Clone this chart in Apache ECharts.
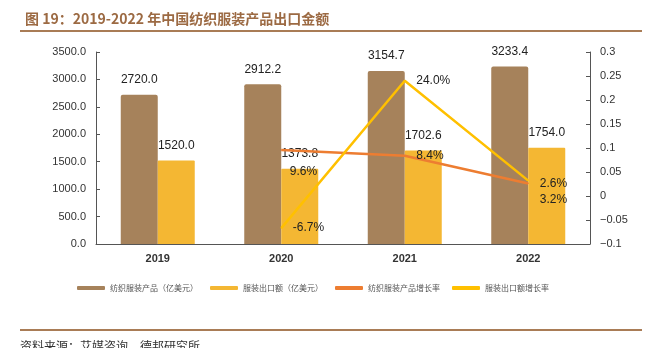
<!DOCTYPE html>
<html>
<head>
<meta charset="utf-8">
<script src="https://cdn.jsdelivr.net/npm/echarts@6/dist/echarts.min.js"></script>
<style>html,body{margin:0;padding:0;background:#fff}#c{width:656px;height:348px}</style>
</head>
<body>
<div id="c"></div>
<script>
const categories = ['2019', '2020', '2021', '2022'];
const textileValues = [2720.0, 2912.2, 3154.7, 3233.4];
const garmentValues = [1520.0, 1373.8, 1702.6, 1754.0];
const textileGrowth = [null, 0.096, 0.084, 0.026];
const garmentGrowth = [null, -0.067, 0.240, 0.032];
const seriesNames = ['纺织服装产品（亿美元）', '服装出口额（亿美元）', '纺织服装产品增长率', '服装出口额增长率'];
const titleText = '图 19：2019-2022 年中国纺织服装产品出口金额';
const sourceText = '资料来源：艾媒咨询，德邦研究所';

const FONT = '"Liberation Sans", "Noto Sans CJK SC", sans-serif';
const CJK = '"Noto Sans CJK SC", sans-serif';
const chart = echarts.init(document.getElementById('c'));

const textileLabelOffsets = [[0,0],[3,22],[6,0],[6,0]];
const garmentLabelOffsets = [[0,0],[6,0],[6,0],[6,19]];
const pct = v => (v * 100).toFixed(1) + '%';

chart.setOption({
  animation: false,
  title: {
    text: titleText, left: 20, top: 7,
    textStyle: { color: '#9c6a43', fontSize: 14, fontWeight: 'bold', fontFamily: CJK }
  },
  graphic: [
    { type: 'line', shape: { x1: 20, y1: 31, x2: 642, y2: 31 }, style: { stroke: '#a97c56', lineWidth: 2 } },
    { type: 'line', shape: { x1: 20, y1: 330, x2: 642, y2: 330 }, style: { stroke: '#a97c56', lineWidth: 2 } },
    { type: 'text', left: 20, top: 340, style: { text: sourceText, fill: '#333', font: '12px "Noto Sans CJK SC", sans-serif' } }
  ],
  legend: {
    left: 72, top: 279, itemWidth: 28, itemHeight: 4, itemGap: 12,
    textStyle: { fontSize: 8, color: '#555', fontFamily: CJK },
    data: seriesNames.map(n => ({ name: n, icon: 'roundRect' }))
  },
  grid: { left: 96, right: 66, top: 52, bottom: 104 },
  xAxis: {
    type: 'category', data: categories,
    axisLine: { lineStyle: { color: '#555' } },
    axisTick: { inside: true, length: 4, lineStyle: { color: '#555' } },
    axisLabel: { color: '#333', fontSize: 11, fontWeight: 'bold', fontFamily: FONT, margin: 9 }
  },
  yAxis: [
    {
      type: 'value', min: 0, max: 3500, interval: 500,
      axisLine: { show: true, lineStyle: { color: '#555' } },
      axisTick: { show: true, inside: true, length: 4, lineStyle: { color: '#555' } },
      splitLine: { show: false },
      axisLabel: { color: '#333', fontSize: 11, fontFamily: FONT, margin: 10, formatter: v => v.toFixed(1) }
    },
    {
      type: 'value', min: -0.1, max: 0.3, interval: 0.05,
      axisLine: { show: true, lineStyle: { color: '#555' } },
      axisTick: { show: true, inside: true, length: 4, lineStyle: { color: '#555' } },
      splitLine: { show: false },
      axisLabel: { color: '#333', fontSize: 11, fontFamily: FONT, margin: 10,
        formatter: v => { const r = Math.round(v * 100) / 100; return r < 0 ? '\u2212' + Math.abs(r) : String(r); } }
    }
  ],
  series: [
    {
      name: seriesNames[0], type: 'bar', data: textileValues, barWidth: 37, barGap: '0%',
      itemStyle: { color: '#a6825b', borderRadius: [2, 2, 0, 0] },
      label: { show: true, position: 'top', distance: 9, color: '#222', fontSize: 12, fontFamily: FONT, formatter: p => p.value.toFixed(1) }
    },
    {
      name: seriesNames[1], type: 'bar', data: garmentValues, barWidth: 37,
      itemStyle: { color: '#f4b733', borderRadius: [1, 1, 0, 0] },
      label: { show: true, position: 'top', distance: 9, color: '#222', fontSize: 12, fontFamily: FONT, formatter: p => p.value.toFixed(1) }
    },
    {
      name: seriesNames[2], type: 'line', yAxisIndex: 1, symbol: 'circle', symbolSize: 1,
      data: textileGrowth.map((v, i) => ({ value: v, label: { offset: textileLabelOffsets[i] } })),
      lineStyle: { color: '#ed7d31', width: 2.5 }, itemStyle: { color: '#ed7d31' },
      label: { show: true, position: 'right', color: '#222', fontSize: 12, fontFamily: FONT, formatter: p => pct(p.value) }
    },
    {
      name: seriesNames[3], type: 'line', yAxisIndex: 1, symbol: 'circle', symbolSize: 1,
      data: garmentGrowth.map((v, i) => ({ value: v, label: { offset: garmentLabelOffsets[i] } })),
      lineStyle: { color: '#ffc000', width: 2.5 }, itemStyle: { color: '#ffc000' },
      label: { show: true, position: 'right', color: '#222', fontSize: 12, fontFamily: FONT, formatter: p => pct(p.value) }
    }
  ]
});
</script>
</body>
</html>
